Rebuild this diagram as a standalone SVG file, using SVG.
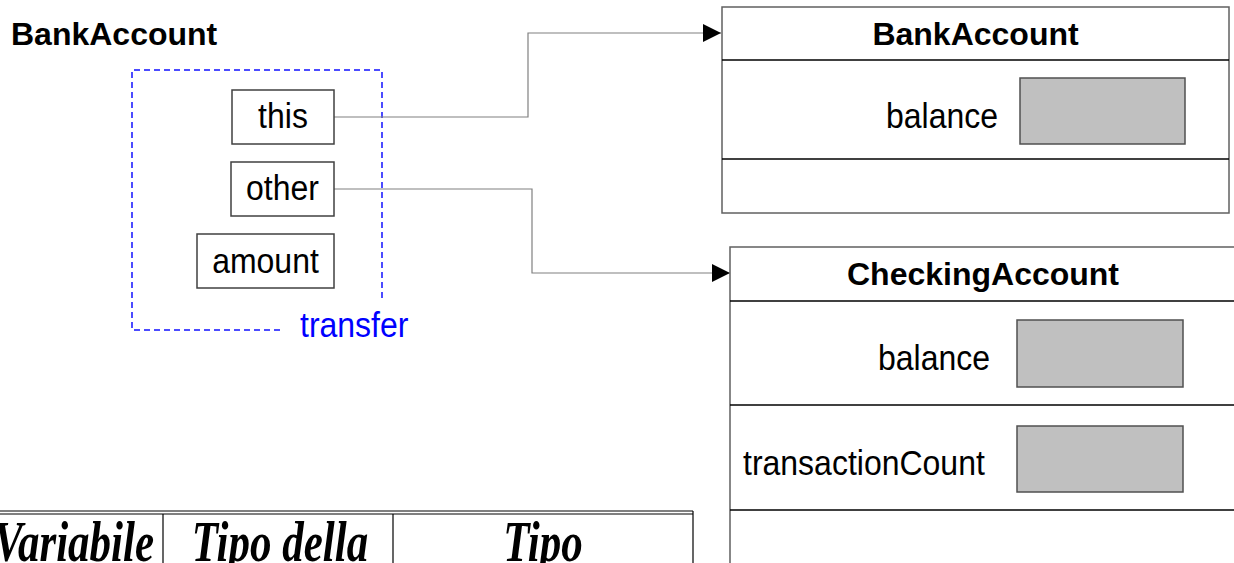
<svg xmlns="http://www.w3.org/2000/svg" width="1234" height="563" viewBox="0 0 1234 563">
<style>
.t{font-family:"Liberation Sans",Arial,sans-serif;font-size:32px;fill:#000}
.b{font-weight:bold}
.box{fill:#fff;stroke:#404040;stroke-width:1.5}
.cls{fill:#fff;stroke:#606060;stroke-width:1.5}
.div{stroke:#000;stroke-width:1.5}
.val{fill:#c0c0c0;stroke:#505050;stroke-width:1.5}
.conn{fill:none;stroke:#808080;stroke-width:1.2}
.tab{font-family:"Liberation Serif","Times New Roman",serif;font-size:43px;font-weight:bold;font-style:italic;fill:#000}
</style>
<defs>
<marker id="arr" markerWidth="18" markerHeight="18" refX="18" refY="9" orient="auto" markerUnits="userSpaceOnUse">
<path d="M0,0 L18,9 L0,18 Z" fill="#000"/>
</marker>
</defs>
<rect width="1234" height="563" fill="#fff"/>

<g id="frame">
<text class="t b" x="11" y="45">BankAccount</text>
<path d="M382,298 V70 H132 V330 H283" fill="none" stroke="#1010ff" stroke-width="1.5" stroke-dasharray="6,4"/>
<text class="t" transform="translate(300,337) scale(1,1.07)" style="fill:#0000ff">transfer</text>
</g>

<g id="connectors">
<path class="conn" d="M334,117 H528 V33 H721" marker-end="url(#arr)"/>
<path class="conn" d="M334,189 H532 V273 H730" marker-end="url(#arr)"/>
</g>

<g id="var-this">
<rect class="box" x="232" y="90" width="102" height="54"/>
<text class="t" transform="translate(283,128) scale(1,1.07)" text-anchor="middle">this</text>
</g>
<g id="var-other">
<rect class="box" x="231" y="162" width="103" height="54"/>
<text class="t" transform="translate(282.5,200) scale(1,1.07)" text-anchor="middle">other</text>
</g>
<g id="var-amount">
<rect class="box" x="197" y="234" width="137" height="54"/>
<text class="t" transform="translate(265.5,273) scale(1,1.07)" text-anchor="middle">amount</text>
</g>

<g id="obj-bankaccount">
<rect class="cls" x="722" y="7" width="507" height="206"/>
<line class="div" x1="722" y1="60" x2="1229" y2="60"/>
<line class="div" x1="722" y1="159" x2="1229" y2="159"/>
<text class="t b" x="975.5" y="45" text-anchor="middle">BankAccount</text>
<text class="t" transform="translate(998,128) scale(1,1.07)" text-anchor="end">balance</text>
<rect class="val" x="1020" y="78" width="165" height="66"/>
</g>

<g id="obj-checkingaccount">
<rect class="cls" x="730" y="247" width="510" height="330"/>
<line class="div" x1="730" y1="301" x2="1240" y2="301"/>
<line class="div" x1="730" y1="405" x2="1240" y2="405"/>
<line class="div" x1="730" y1="510" x2="1240" y2="510"/>
<text class="t b" x="983" y="285" text-anchor="middle">CheckingAccount</text>
<text class="t" transform="translate(990,370) scale(1,1.07)" text-anchor="end">balance</text>
<rect class="val" x="1017" y="320" width="166" height="67"/>
<text class="t" transform="translate(743,475) scale(1,1.07)">transactionCount</text>
<rect class="val" x="1017" y="426" width="166" height="66"/>
</g>

<g id="table">
<line x1="0" y1="511" x2="693" y2="511" stroke="#000" stroke-width="1.2"/>
<line x1="0" y1="514" x2="693" y2="514" stroke="#000" stroke-width="1.2"/>
<line x1="163" y1="514" x2="163" y2="563" stroke="#000" stroke-width="1.2"/>
<line x1="393" y1="514" x2="393" y2="563" stroke="#000" stroke-width="1.2"/>
<line x1="693" y1="511" x2="693" y2="563" stroke="#000" stroke-width="1.2"/>
<text class="tab" transform="translate(-6,561) scale(1,1.33)">Variabile</text>
<text class="tab" transform="translate(280,561) scale(1,1.33)" text-anchor="middle">Tipo della</text>
<text class="tab" transform="translate(543,561) scale(1,1.33)" text-anchor="middle">Tipo</text>
</g>
</svg>
